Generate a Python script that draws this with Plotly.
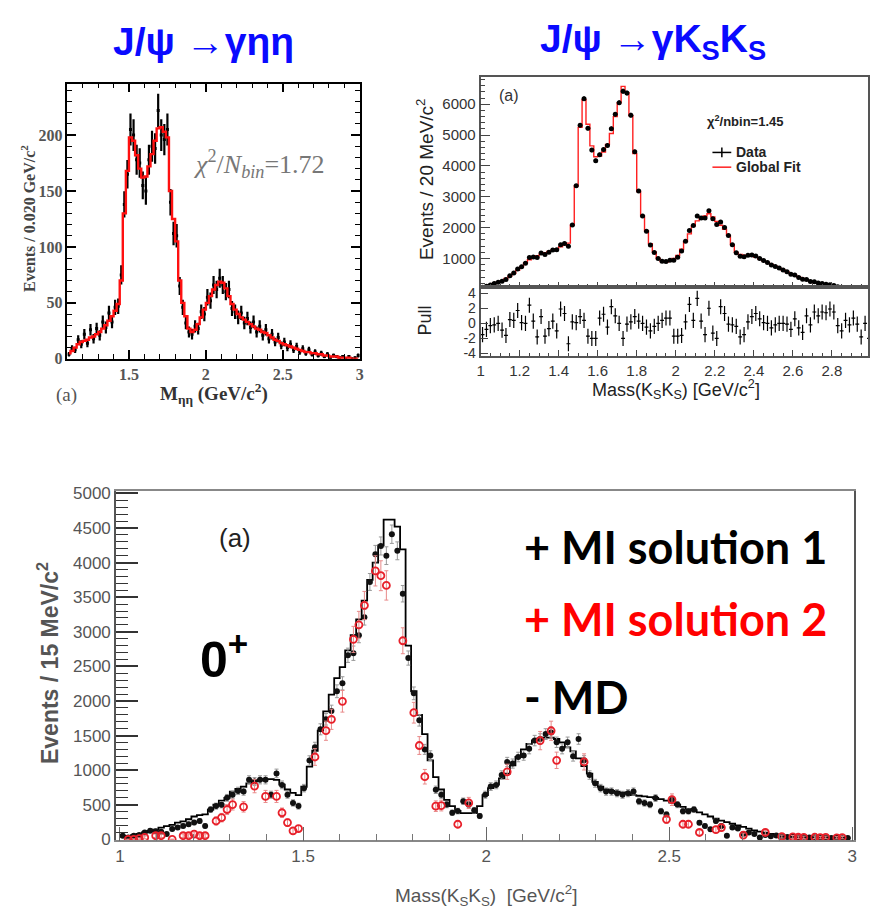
import numpy as np
import plotly.graph_objects as go

W, H = 872, 923

# ---------------- Panel 1: J/psi -> gamma eta eta (20 MeV bins) ----------------
ee_bin_start = 1.10
ee_bin_width = 0.020
ee_fit = [5, 7, 10, 13, 15, 16, 17, 19, 20, 22,
          24, 27, 30, 34, 38, 43, 49, 70, 130, 168,
          198, 195, 182, 170, 162, 163, 172, 183, 195, 206,
          207, 203, 198, 150, 125, 105, 70, 50, 38, 27,
          24, 26, 31, 37, 44, 50, 56, 62, 66, 69,
          68, 63, 56, 49, 44, 40, 37, 35, 33, 31,
          29, 27, 26, 24, 23, 21, 19, 17, 16, 14,
          13, 12, 11, 10, 9, 8, 7, 6, 6, 5,
          5, 4, 4, 3, 3, 2, 2, 2, 1, 1,
          1, 1, 0, 0, 0]
ee_data = [4, 9, 8, 17, 13, 22, 14, 26, 18, 27,
           21, 33, 28, 41, 33, 46, 47, 75, 138, 165,
           205, 200, 178, 175, 155, 150, 178, 190, 188, 222,
           200, 196, 205, 140, 112, 110, 65, 46, 32, 24,
           22, 29, 27, 42, 40, 55, 52, 66, 62, 72,
           66, 60, 62, 45, 42, 37, 41, 32, 36, 28,
           33, 24, 29, 21, 26, 18, 22, 15, 19, 12,
           15, 10, 13, 8, 11, 6, 9, 5, 8, 4,
           6, 3, 5, 2, 4, 1, 3, 2, 1, 2,
           0, 2, 0, 1, 3]

# ---------------- Panel 2: J/psi -> gamma KsKs (20 MeV bins) ----------------
ks_bin_start = 1.00
ks_bin_width = 0.020
ks_fit = [80, 110, 150, 190, 230, 280, 350, 430, 520, 620,
          730, 850, 960, 1040, 1090, 1140, 1190, 1230, 1270, 1320,
          1380, 1440, 1500, 2080, 3350, 5250, 6150, 5350, 4650, 4300,
          4320, 4450, 4700, 5050, 5600, 6050, 6580, 6370, 5630, 4400,
          3170, 2380, 1900, 1480, 1210, 1000, 900, 880, 920, 1000,
          1100, 1300, 1550, 1800, 2050, 2220, 2300, 2380, 2450, 2350,
          2200, 2080, 1950, 1750, 1450, 1200, 1130, 1110, 1100, 1080,
          1040, 980, 930, 870, 810, 750, 690, 630, 570, 510,
          455, 400, 350, 300, 260, 225, 195, 170, 150, 130,
          110, 90, 75, 60, 50, 40, 35, 30, 25, 20]
ks_data = [65, 100, 145, 188, 230, 265, 320, 440, 530, 660,
           733, 850, 1035, 1050, 1030, 1175, 1130, 1205, 1280, 1285,
           1450, 1490, 1395, 2090, 3355, 5315, 6180, 5225, 4515, 4170,
           4365, 4530, 4665, 5205, 5675, 6050, 6420, 6360, 5645, 4460,
           3185, 2380, 1880, 1440, 1195, 1000, 912, 900, 940, 946,
           1045, 1240, 1560, 1905, 2070, 2375, 2315, 2310, 2550, 2290,
           2105, 2180, 2005, 1745, 1445, 1185, 1070, 1060, 1105, 1110,
           1080, 1000, 933, 870, 793, 745, 690, 630, 568, 492,
           468, 388, 328, 317, 257, 247, 209, 190, 167, 152,
           126, 87, 66, 63, 49, 44, 34, 20, 25, 22]
ks_pull = [-1.5, -0.8, -0.3, -0.2, 0.0, -0.9, -1.6, 0.5, 0.4, 1.7,
           0.1, 0.0, 2.4, 0.3, -1.8, 0.9, -1.7, -0.7, 0.3, -1.0,
           1.9, 1.3, -2.7, 0.2, 0.1, 0.9, 0.4, -1.7, -2.0, -2.0,
           0.7, 1.2, -0.5, 2.2, 1.0, 0.0, -2.0, -0.1, 0.2, 0.9,
           0.3, 0.0, -0.5, -1.0, -0.4, 0.0, 0.4, 0.7, 0.7, -1.7,
           -1.7, -1.6, 0.2, 2.5, 0.4, 3.3, 0.3, -1.5, 2.0, -1.3,
           -2.0, 2.2, 1.3, -0.1, -0.2, -0.4, -1.8, -1.5, 0.2, 0.9,
           1.3, 0.6, 0.1, 0.0, -0.6, -0.2, 0.0, 0.0, -0.1, -0.8,
           0.6, -0.6, -1.2, 1.0, -0.2, 1.5, 1.0, 1.5, 1.4, 1.9,
           1.5, -0.3, -1.0, 0.4, -0.2, 0.7, -0.1, -1.8, 0.0, -2.0]

# ---------------- Panel 3: PWA 0+ component (15 MeV bins) ----------------
pwa_bin_start = 1.00
pwa_bin_width = 0.015
md_hist = [40, 50, 60, 80, 100, 120, 140, 170, 190, 210,
           240, 260, 290, 330, 350, 360, 430, 500, 560, 600,
           690, 730, 760, 810, 840, 860, 870, 870, 860, 790,
           720, 670, 640, 760, 1050, 1280, 1570, 1850, 2090, 2330,
           2490, 2730, 2950, 3180, 3450, 3750, 4000, 4250, 4620, 4620,
           4520, 4190, 2800, 2140, 1800, 1520, 1140, 900, 720, 570,
           480, 410, 380, 380, 380, 480, 640, 740, 790, 880,
           950, 1070, 1190, 1300, 1380, 1430, 1460, 1470, 1470, 1450,
           1400, 1330, 1270, 1170, 1060, 950, 830, 760, 720, 700,
           690, 680, 660, 640, 630, 620, 610, 600, 580, 560,
           530, 500, 470, 440, 420, 390, 360, 330, 300, 270,
           250, 225, 200, 180, 155, 130, 110, 95, 80, 65,
           58, 50, 44, 40, 35, 32, 30, 27, 25, 22,
           20, 18, 16]
mi_sol1 = [52, 28, 52, 62, 100, 123, 115, 109, 76, 150,
           170, 194, 218, 242, 265, 194, 430, 480, 500, 600,
           645, 700, 690, 860, 834, 860, 860, 645, 953, 787,
           645, 526, 480, 740, 1140, 1330, 1590, 1735, 1853, 2140,
           2255, 2660, 2690, 2950, 3210, 3720, 4120, 4240, 4100, 4410,
           4170, 3550, 2620, 2110, 1720, 1300, 1210, 716, 645, 502,
           384, 408, 550, 502, 420, 337, 645, 763, 787, 929,
           1118, 1095, 1190, 1213, 1308, 1427, 1450, 1521, 1545, 1403,
           1308, 1403, 1200, 1450, 1142, 929, 810, 740, 690, 690,
           667, 644, 667, 690, 549, 525, 502, 596, 407, 360,
           573, 502, 407, 407, 431, 241, 194, 147, 265, 194,
           52, 170, 156, 76, 99, 76, 28, 62, 43, 55,
           40, 35, 45, 30, 38, 25, 30, 20, 28, 18,
           22, 15, 20]
N = None
mi_sol2 = [N, 0, 0, 10, 28, N, 52, 52, N, 0,
           N, 52, 52, 76, 52, 52, N, 265, 313, 431,
           502, N, 470, N, 770, N, 620, N, 620, 384,
           242, 123, 156, N, N, 1190, N, 1570, 1735, N,
           1995, N, 2890, 3100, 3380, N, 3880, 3810, 3670, N,
           N, 2870, N, 1830, 1356, 905, N, 479, 488, N,
           N, 218, N, 526, N, N, N, N, N, N,
           976, N, N, N, N, N, 1427, N, 1569, 1142,
           N, N, N, N, 1119, N, N, N, N, N,
           N, N, N, N, N, N, N, N, N, 289,
           573, N, 218, 218, N, 99, N, N, 140, 170,
           N, N, N, 62, N, N, N, 99, N, N,
           40, N, 35, 30, 28, N, 30, 25, 28, N,
           22, 25, N]


def centers(start, width, n):
    return [start + width * (i + 0.5) for i in range(n)]


def edges(start, width, n):
    return [start + width * i for i in range(n + 1)]


def poisson(vals, scale=1.0):
    return [None if v is None else scale * np.sqrt(max(v, 1)) for v in vals]


def PX(x):
    return x / W


def PY(y):
    return 1 - y / H


ee_x = centers(ee_bin_start, ee_bin_width, len(ee_fit))
ks_x = centers(ks_bin_start, ks_bin_width, len(ks_fit))
ks_e = edges(ks_bin_start, ks_bin_width, len(ks_fit))
pw_x = centers(pwa_bin_start, pwa_bin_width, len(md_hist))
pw_e = edges(pwa_bin_start, pwa_bin_width, len(md_hist))

fig = go.Figure()

# Panel 1
fig.add_trace(go.Scatter(
    x=ee_x, y=ee_data, mode="markers", xaxis="x", yaxis="y",
    marker=dict(color="black", size=3, symbol="square"),
    error_y=dict(type="data", array=poisson(ee_data), color="black", thickness=2.2, width=0)))
fig.add_trace(go.Scatter(
    x=ee_x, y=ee_fit, mode="lines", xaxis="x", yaxis="y",
    line=dict(color="#ff1010", width=2.4, shape="hvh")))

# Panel 2
fig.add_trace(go.Scatter(
    x=ks_e, y=ks_fit + [ks_fit[-1]], mode="lines", xaxis="x2", yaxis="y2",
    line=dict(color="#ff2020", width=1.4, shape="hv")))
fig.add_trace(go.Scatter(
    x=ks_x, y=ks_data, mode="markers", xaxis="x2", yaxis="y2",
    marker=dict(color="black", size=5),
    error_y=dict(type="data", array=poisson(ks_data), color="black", thickness=1.2, width=0),
    error_x=dict(type="constant", value=ks_bin_width / 2, color="black", thickness=1.2, width=0)))
fig.add_trace(go.Scatter(
    x=ks_x, y=ks_pull, mode="markers", xaxis="x3", yaxis="y3",
    marker=dict(color="black", size=1),
    error_y=dict(type="constant", value=1.0, color="black", thickness=1.2, width=0),
    error_x=dict(type="constant", value=ks_bin_width / 2, color="black", thickness=1.2, width=0)))

# Panel 3
fig.add_trace(go.Scatter(
    x=pw_e, y=md_hist + [md_hist[-1]], mode="lines", xaxis="x4", yaxis="y4",
    line=dict(color="black", width=1.8, shape="hv")))
fig.add_trace(go.Scatter(
    x=pw_x, y=mi_sol1, mode="markers", xaxis="x4", yaxis="y4",
    marker=dict(color="#111111", size=6),
    error_y=dict(type="data", array=poisson(mi_sol1, 2.0), color="#999999", thickness=1, width=2)))
fig.add_trace(go.Scatter(
    x=pw_x, y=mi_sol2, mode="markers", xaxis="x4", yaxis="y4",
    marker=dict(color="#e8202a", size=7, symbol="circle-open", line=dict(width=1.8)),
    error_y=dict(type="data", array=poisson(mi_sol2, 3.5), color="#e88a8a", thickness=1, width=2)))

serif_tick = dict(family="Liberation Serif", size=16, color="#555555", weight="bold")
sans_tick = dict(family="Liberation Sans", size=15, color="#333333")
narrow_tick = dict(family="Liberation Sans Narrow, Liberation Sans", size=17, color="#555555")

common = dict(showgrid=False, zeroline=False, showline=True)

fig.update_layout(
    width=W, height=H, autosize=False,
    margin=dict(l=0, r=0, t=0, b=0),
    paper_bgcolor="white", plot_bgcolor="white",
    showlegend=False,
    xaxis=dict(domain=[PX(64), PX(359)], range=[1.1, 3.0], anchor="y",
               linecolor="black", linewidth=1.5, mirror="allticks",
               ticks="inside", ticklen=9, tickwidth=1.5, tickcolor="black",
               tickmode="linear", tick0=1.5, dtick=0.5, tickfont=serif_tick,
               minor=dict(ticks="inside", ticklen=5, tickwidth=1.2, tickcolor="black", tick0=1.0, dtick=0.1),
               **common),
    yaxis=dict(domain=[PY(358), PY(78)], range=[0, 246], anchor="x",
               linecolor="black", linewidth=1.5, mirror="allticks",
               ticks="inside", ticklen=9, tickwidth=1.5, tickcolor="black",
               tickmode="linear", tick0=0, dtick=50, tickfont=serif_tick,
               minor=dict(ticks="inside", ticklen=5, tickwidth=1.2, tickcolor="black", tick0=0, dtick=10),
               **common),
    xaxis2=dict(domain=[PX(481), 1.0], range=[1.0, 2.985], anchor="y2",
                linecolor="#555555", linewidth=1.8, mirror=True,
                ticks="inside", ticklen=5, tickwidth=1, tickcolor="#444444",
                tickmode="linear", tick0=1.0, dtick=0.2, showticklabels=False,
                minor=dict(ticks="inside", ticklen=3, tickwidth=1, tickcolor="#444444", tick0=1.0, dtick=0.05),
                **common),
    yaxis2=dict(domain=[PY(285), PY(71)], range=[75, 6890], anchor="x2",
                linecolor="#555555", linewidth=1.8, mirror=True,
                ticks="inside", ticklen=10, tickwidth=1, tickcolor="#444444",
                tickmode="linear", tick0=0, dtick=1000, tickfont=sans_tick,
                minor=dict(ticks="inside", ticklen=5, tickwidth=1, tickcolor="#444444", tick0=0, dtick=200),
                **common),
    xaxis3=dict(domain=[PX(481), 1.0], range=[1.0, 2.985], anchor="y3",
                linecolor="#555555", linewidth=1.8, mirror=True,
                ticks="inside", ticklen=6, tickwidth=1, tickcolor="#444444",
                tickmode="linear", tick0=1.0, dtick=0.2, tickfont=sans_tick,
                minor=dict(ticks="inside", ticklen=3, tickwidth=1, tickcolor="#444444", tick0=1.0, dtick=0.05),
                **common),
    yaxis3=dict(domain=[PY(355), PY(285)], range=[-4.3, 4.8], anchor="x3",
                linecolor="#555555", linewidth=1.8, mirror=True,
                ticks="inside", ticklen=8, tickwidth=1, tickcolor="#444444",
                tickmode="array", tickvals=[-4, -2, 0, 2, 4], ticktext=["-4", "-2", "0", "2", "4"],
                tickfont=dict(family="Liberation Sans", size=14, color="#333333"),
                **common),
    xaxis4=dict(domain=[PX(113), PX(858)], range=[0.989, 3.005], anchor="y4",
                linecolor="#888888", linewidth=1.5, mirror=True,
                ticks="inside", ticklen=14, tickwidth=1.2, tickcolor="#666666",
                tickmode="linear", tick0=1.0, dtick=0.5, tickfont=narrow_tick,
                minor=dict(ticks="inside", ticklen=7, tickwidth=1, tickcolor="#777777", tick0=1.0, dtick=0.1),
                **common),
    yaxis4=dict(domain=[PY(848), PY(493)], range=[-14, 5028], anchor="x4",
                linecolor="#555555", linewidth=1.5, mirror=True,
                ticks="inside", ticklen=22, tickwidth=1.5, tickcolor="#333333",
                tickmode="linear", tick0=0, dtick=500, tickfont=narrow_tick,
                minor=dict(ticks="inside", ticklen=12, tickwidth=1.2, tickcolor="#333333", tick0=0, dtick=100),
                **common),
)

ann = []


def note(text, x, y, size, color="black", family="Liberation Sans", xanchor="center",
         yanchor="middle", angle=0):
    ann.append(dict(text=text, x=PX(x), y=PY(y), xref="paper", yref="paper",
                    xanchor=xanchor, yanchor=yanchor, showarrow=False, textangle=angle,
                    font=dict(family=family, size=size, color=color)))


BLUE = "#0a0aff"
# Panel 1 texts
note("<b>J/ψ →γηη</b>", 201, 35, 39, BLUE)
note("<i>χ</i><sup>2</sup>/<i>N<sub>bin</sub></i>=1.72", 257, 160, 26, "#777777", "Liberation Serif")
note("<b>Events / 0.020 GeV/c<sup>2</sup></b>", 25, 215, 16, "#444444", "Liberation Serif", angle=-90)
note("<b>M<sub>ηη</sub> (GeV/c<sup>2</sup>)</b>", 212, 393, 19, "#333333", "Liberation Serif")
note("(a)", 63, 395, 19, "#555555", "Liberation Serif")

# Panel 2 texts
note("<b>J/ψ →γK<sub>S</sub>K<sub>S</sub></b>", 655, 35, 39, BLUE)
note("Events / 20 MeV/c<sup>2</sup>", 425, 175, 19, "#222222", angle=-90)
note("Pull", 425, 319, 18, "#222222", angle=-90)
note("Mass(K<sub>S</sub>K<sub>S</sub>) [GeV/c<sup>2</sup>]", 678, 389, 18, "#222222")
note("(a)", 510, 90, 16, "#333333")
note("<b>χ<sup>2</sup>/nbin=1.45</b>", 748, 116, 13, "#222222")
note("<b>Data</b>", 737, 148, 14, "#222222", xanchor="left")
note("<b>Global Fit</b>", 737, 163, 14, "#222222", xanchor="left")

# Panel 3 texts
note("(a)", 233, 540, 26, "#222222", "Liberation Sans Narrow, Liberation Sans")
note("<b>0<sup>+</sup></b>", 222, 660, 50, "black")
note("<b>+ MI solution 1</b>", 523, 550, 45, "black", "Lato", xanchor="left")
note("<b>+ MI solution 2</b>", 523, 623, 45, "#ff0000", "Lato", xanchor="left")
note("<b>- MD</b>", 523, 702, 45, "black", "Lato", xanchor="left")
note("<b>Events / 15 MeV/c<sup>2</sup></b>", 45, 668, 23, "#555555", angle=-90)
note("Mass(K<sub>S</sub>K<sub>S</sub>)  [GeV/c<sup>2</sup>]", 487, 904, 19, "#555555",
     "Liberation Sans Narrow, Liberation Sans")

fig.update_layout(annotations=ann)

# legend sample for panel 2
shapes = [
    dict(type="line", xref="paper", yref="paper", x0=PX(715), x1=PX(734), y0=PY(148), y1=PY(148),
         line=dict(color="black", width=1.5)),
    dict(type="line", xref="paper", yref="paper", x0=PX(724.5), x1=PX(724.5), y0=PY(143), y1=PY(153),
         line=dict(color="black", width=1.5)),
    dict(type="line", xref="paper", yref="paper", x0=PX(715), x1=PX(734), y0=PY(163), y1=PY(163),
         line=dict(color="#ff2020", width=1.5)),
]
fig.update_layout(shapes=shapes)

fig.write_html("out.html")
